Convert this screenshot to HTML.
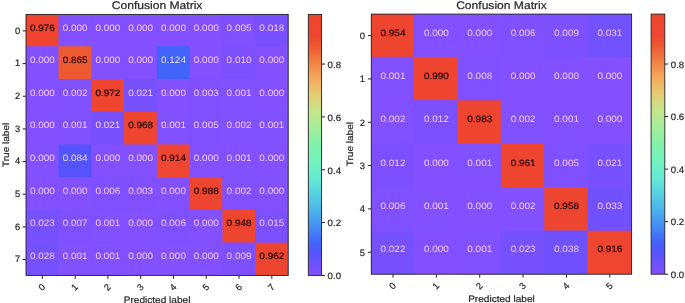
<!DOCTYPE html>
<html><head><meta charset="utf-8"><style>
html,body{margin:0;padding:0;background:#fff;width:685px;height:303px;overflow:hidden}
svg{display:block;filter:blur(0.45px)}
text{stroke-width:0.2px;paint-order:stroke;text-rendering:geometricPrecision}
</style></head><body>
<svg width="685" height="303" viewBox="0 0 685 303" font-family='"Liberation Sans", sans-serif' font-size="9.3">
<rect width="685" height="303" fill="#fff"/>
<rect x="26" y="14.4" width="262.2" height="261.0" fill="#8250ff"/>
<rect x="26.00" y="14.40" width="32.50" height="31.84" fill="#ee4430"/>
<rect x="222.50" y="14.40" width="32.80" height="31.84" fill="#7f50ff"/>
<rect x="255.30" y="14.40" width="32.80" height="31.84" fill="#7950ff"/>
<rect x="58.50" y="46.24" width="32.80" height="32.74" fill="#ed5a32"/>
<rect x="156.90" y="46.24" width="32.80" height="32.74" fill="#4264fa"/>
<rect x="222.50" y="46.24" width="32.80" height="32.74" fill="#7d50ff"/>
<rect x="58.50" y="78.98" width="32.80" height="32.74" fill="#8150ff"/>
<rect x="91.30" y="78.98" width="32.80" height="32.74" fill="#ee4430"/>
<rect x="124.10" y="78.98" width="32.80" height="32.74" fill="#7751fe"/>
<rect x="189.70" y="78.98" width="32.80" height="32.74" fill="#8050ff"/>
<rect x="222.50" y="78.98" width="32.80" height="32.74" fill="#8150ff"/>
<rect x="58.50" y="111.72" width="32.80" height="32.74" fill="#8150ff"/>
<rect x="91.30" y="111.72" width="32.80" height="32.74" fill="#7751fe"/>
<rect x="124.10" y="111.72" width="32.80" height="32.74" fill="#ee4530"/>
<rect x="156.90" y="111.72" width="32.80" height="32.74" fill="#8150ff"/>
<rect x="189.70" y="111.72" width="32.80" height="32.74" fill="#7f50ff"/>
<rect x="222.50" y="111.72" width="32.80" height="32.74" fill="#8150ff"/>
<rect x="255.30" y="111.72" width="32.80" height="32.74" fill="#8150ff"/>
<rect x="58.50" y="144.46" width="32.80" height="32.74" fill="#5554fc"/>
<rect x="156.90" y="144.46" width="32.80" height="32.74" fill="#ee4630"/>
<rect x="222.50" y="144.46" width="32.80" height="32.74" fill="#8150ff"/>
<rect x="91.30" y="177.20" width="32.80" height="32.74" fill="#7f50ff"/>
<rect x="124.10" y="177.20" width="32.80" height="32.74" fill="#8050ff"/>
<rect x="189.70" y="177.20" width="32.80" height="32.74" fill="#ee4430"/>
<rect x="222.50" y="177.20" width="32.80" height="32.74" fill="#8150ff"/>
<rect x="26.00" y="209.94" width="32.50" height="32.74" fill="#7651fe"/>
<rect x="58.50" y="209.94" width="32.80" height="32.74" fill="#7e50ff"/>
<rect x="91.30" y="209.94" width="32.80" height="32.74" fill="#8150ff"/>
<rect x="156.90" y="209.94" width="32.80" height="32.74" fill="#7f50ff"/>
<rect x="222.50" y="209.94" width="32.80" height="32.74" fill="#ee4530"/>
<rect x="255.30" y="209.94" width="32.80" height="32.74" fill="#7a50ff"/>
<rect x="26.00" y="242.68" width="32.50" height="32.72" fill="#7451fe"/>
<rect x="58.50" y="242.68" width="32.80" height="32.72" fill="#8150ff"/>
<rect x="91.30" y="242.68" width="32.80" height="32.72" fill="#8150ff"/>
<rect x="222.50" y="242.68" width="32.80" height="32.72" fill="#7d50ff"/>
<rect x="255.30" y="242.68" width="32.80" height="32.72" fill="#ee4530"/>
<text x="42.39" y="30.80" fill="#200808" stroke="#200808"  text-anchor="middle" textLength="24.86" lengthAdjust="spacingAndGlyphs">0.976</text>
<text x="75.16" y="30.80" fill="#f3c8ff" stroke="none"  text-anchor="middle" textLength="24.86" lengthAdjust="spacingAndGlyphs">0.000</text>
<text x="107.94" y="30.80" fill="#f3c8ff" stroke="none"  text-anchor="middle" textLength="24.86" lengthAdjust="spacingAndGlyphs">0.000</text>
<text x="140.71" y="30.80" fill="#f3c8ff" stroke="none"  text-anchor="middle" textLength="24.86" lengthAdjust="spacingAndGlyphs">0.000</text>
<text x="173.49" y="30.80" fill="#f3c8ff" stroke="none"  text-anchor="middle" textLength="24.86" lengthAdjust="spacingAndGlyphs">0.000</text>
<text x="206.26" y="30.80" fill="#f3c8ff" stroke="none"  text-anchor="middle" textLength="24.86" lengthAdjust="spacingAndGlyphs">0.000</text>
<text x="239.04" y="30.80" fill="#f3c8ff" stroke="none"  text-anchor="middle" textLength="24.86" lengthAdjust="spacingAndGlyphs">0.005</text>
<text x="271.81" y="30.80" fill="#f3c8ff" stroke="none"  text-anchor="middle" textLength="24.86" lengthAdjust="spacingAndGlyphs">0.018</text>
<text x="42.39" y="62.80" fill="#f3c8ff" stroke="none"  text-anchor="middle" textLength="24.86" lengthAdjust="spacingAndGlyphs">0.000</text>
<text x="75.16" y="62.80" fill="#200808" stroke="#200808"  text-anchor="middle" textLength="24.86" lengthAdjust="spacingAndGlyphs">0.865</text>
<text x="107.94" y="62.80" fill="#f3c8ff" stroke="none"  text-anchor="middle" textLength="24.86" lengthAdjust="spacingAndGlyphs">0.000</text>
<text x="140.71" y="62.80" fill="#f3c8ff" stroke="none"  text-anchor="middle" textLength="24.86" lengthAdjust="spacingAndGlyphs">0.000</text>
<text x="173.49" y="62.80" fill="#e4dcff" stroke="none"  text-anchor="middle" textLength="24.86" lengthAdjust="spacingAndGlyphs">0.124</text>
<text x="206.26" y="62.80" fill="#f3c8ff" stroke="none"  text-anchor="middle" textLength="24.86" lengthAdjust="spacingAndGlyphs">0.000</text>
<text x="239.04" y="62.80" fill="#f3c8ff" stroke="none"  text-anchor="middle" textLength="24.86" lengthAdjust="spacingAndGlyphs">0.010</text>
<text x="271.81" y="62.80" fill="#f3c8ff" stroke="none"  text-anchor="middle" textLength="24.86" lengthAdjust="spacingAndGlyphs">0.000</text>
<text x="42.39" y="96.00" fill="#f3c8ff" stroke="none"  text-anchor="middle" textLength="24.86" lengthAdjust="spacingAndGlyphs">0.000</text>
<text x="75.16" y="96.00" fill="#f3c8ff" stroke="none"  text-anchor="middle" textLength="24.86" lengthAdjust="spacingAndGlyphs">0.002</text>
<text x="107.94" y="96.00" fill="#200808" stroke="#200808"  text-anchor="middle" textLength="24.86" lengthAdjust="spacingAndGlyphs">0.972</text>
<text x="140.71" y="96.00" fill="#f3c8ff" stroke="none"  text-anchor="middle" textLength="24.86" lengthAdjust="spacingAndGlyphs">0.021</text>
<text x="173.49" y="96.00" fill="#f3c8ff" stroke="none"  text-anchor="middle" textLength="24.86" lengthAdjust="spacingAndGlyphs">0.000</text>
<text x="206.26" y="96.00" fill="#f3c8ff" stroke="none"  text-anchor="middle" textLength="24.86" lengthAdjust="spacingAndGlyphs">0.003</text>
<text x="239.04" y="96.00" fill="#f3c8ff" stroke="none"  text-anchor="middle" textLength="24.86" lengthAdjust="spacingAndGlyphs">0.001</text>
<text x="271.81" y="96.00" fill="#f3c8ff" stroke="none"  text-anchor="middle" textLength="24.86" lengthAdjust="spacingAndGlyphs">0.000</text>
<text x="42.39" y="128.40" fill="#f3c8ff" stroke="none"  text-anchor="middle" textLength="24.86" lengthAdjust="spacingAndGlyphs">0.000</text>
<text x="75.16" y="128.40" fill="#f3c8ff" stroke="none"  text-anchor="middle" textLength="24.86" lengthAdjust="spacingAndGlyphs">0.001</text>
<text x="107.94" y="128.40" fill="#f3c8ff" stroke="none"  text-anchor="middle" textLength="24.86" lengthAdjust="spacingAndGlyphs">0.021</text>
<text x="140.71" y="128.40" fill="#200808" stroke="#200808"  text-anchor="middle" textLength="24.86" lengthAdjust="spacingAndGlyphs">0.968</text>
<text x="173.49" y="128.40" fill="#f3c8ff" stroke="none"  text-anchor="middle" textLength="24.86" lengthAdjust="spacingAndGlyphs">0.001</text>
<text x="206.26" y="128.40" fill="#f3c8ff" stroke="none"  text-anchor="middle" textLength="24.86" lengthAdjust="spacingAndGlyphs">0.005</text>
<text x="239.04" y="128.40" fill="#f3c8ff" stroke="none"  text-anchor="middle" textLength="24.86" lengthAdjust="spacingAndGlyphs">0.002</text>
<text x="271.81" y="128.40" fill="#f3c8ff" stroke="none"  text-anchor="middle" textLength="24.86" lengthAdjust="spacingAndGlyphs">0.001</text>
<text x="42.39" y="160.80" fill="#f3c8ff" stroke="none"  text-anchor="middle" textLength="24.86" lengthAdjust="spacingAndGlyphs">0.000</text>
<text x="75.16" y="160.80" fill="#e4dcff" stroke="none"  text-anchor="middle" textLength="24.86" lengthAdjust="spacingAndGlyphs">0.084</text>
<text x="107.94" y="160.80" fill="#f3c8ff" stroke="none"  text-anchor="middle" textLength="24.86" lengthAdjust="spacingAndGlyphs">0.000</text>
<text x="140.71" y="160.80" fill="#f3c8ff" stroke="none"  text-anchor="middle" textLength="24.86" lengthAdjust="spacingAndGlyphs">0.000</text>
<text x="173.49" y="160.80" fill="#200808" stroke="#200808"  text-anchor="middle" textLength="24.86" lengthAdjust="spacingAndGlyphs">0.914</text>
<text x="206.26" y="160.80" fill="#f3c8ff" stroke="none"  text-anchor="middle" textLength="24.86" lengthAdjust="spacingAndGlyphs">0.000</text>
<text x="239.04" y="160.80" fill="#f3c8ff" stroke="none"  text-anchor="middle" textLength="24.86" lengthAdjust="spacingAndGlyphs">0.001</text>
<text x="271.81" y="160.80" fill="#f3c8ff" stroke="none"  text-anchor="middle" textLength="24.86" lengthAdjust="spacingAndGlyphs">0.000</text>
<text x="42.39" y="193.70" fill="#f3c8ff" stroke="none"  text-anchor="middle" textLength="24.86" lengthAdjust="spacingAndGlyphs">0.000</text>
<text x="75.16" y="193.70" fill="#f3c8ff" stroke="none"  text-anchor="middle" textLength="24.86" lengthAdjust="spacingAndGlyphs">0.000</text>
<text x="107.94" y="193.70" fill="#f3c8ff" stroke="none"  text-anchor="middle" textLength="24.86" lengthAdjust="spacingAndGlyphs">0.006</text>
<text x="140.71" y="193.70" fill="#f3c8ff" stroke="none"  text-anchor="middle" textLength="24.86" lengthAdjust="spacingAndGlyphs">0.003</text>
<text x="173.49" y="193.70" fill="#f3c8ff" stroke="none"  text-anchor="middle" textLength="24.86" lengthAdjust="spacingAndGlyphs">0.000</text>
<text x="206.26" y="193.70" fill="#200808" stroke="#200808"  text-anchor="middle" textLength="24.86" lengthAdjust="spacingAndGlyphs">0.988</text>
<text x="239.04" y="193.70" fill="#f3c8ff" stroke="none"  text-anchor="middle" textLength="24.86" lengthAdjust="spacingAndGlyphs">0.002</text>
<text x="271.81" y="193.70" fill="#f3c8ff" stroke="none"  text-anchor="middle" textLength="24.86" lengthAdjust="spacingAndGlyphs">0.000</text>
<text x="42.39" y="226.10" fill="#f3c8ff" stroke="none"  text-anchor="middle" textLength="24.86" lengthAdjust="spacingAndGlyphs">0.023</text>
<text x="75.16" y="226.10" fill="#f3c8ff" stroke="none"  text-anchor="middle" textLength="24.86" lengthAdjust="spacingAndGlyphs">0.007</text>
<text x="107.94" y="226.10" fill="#f3c8ff" stroke="none"  text-anchor="middle" textLength="24.86" lengthAdjust="spacingAndGlyphs">0.001</text>
<text x="140.71" y="226.10" fill="#f3c8ff" stroke="none"  text-anchor="middle" textLength="24.86" lengthAdjust="spacingAndGlyphs">0.000</text>
<text x="173.49" y="226.10" fill="#f3c8ff" stroke="none"  text-anchor="middle" textLength="24.86" lengthAdjust="spacingAndGlyphs">0.006</text>
<text x="206.26" y="226.10" fill="#f3c8ff" stroke="none"  text-anchor="middle" textLength="24.86" lengthAdjust="spacingAndGlyphs">0.000</text>
<text x="239.04" y="226.10" fill="#200808" stroke="#200808"  text-anchor="middle" textLength="24.86" lengthAdjust="spacingAndGlyphs">0.948</text>
<text x="271.81" y="226.10" fill="#f3c8ff" stroke="none"  text-anchor="middle" textLength="24.86" lengthAdjust="spacingAndGlyphs">0.015</text>
<text x="42.39" y="259.00" fill="#f3c8ff" stroke="none"  text-anchor="middle" textLength="24.86" lengthAdjust="spacingAndGlyphs">0.028</text>
<text x="75.16" y="259.00" fill="#f3c8ff" stroke="none"  text-anchor="middle" textLength="24.86" lengthAdjust="spacingAndGlyphs">0.001</text>
<text x="107.94" y="259.00" fill="#f3c8ff" stroke="none"  text-anchor="middle" textLength="24.86" lengthAdjust="spacingAndGlyphs">0.001</text>
<text x="140.71" y="259.00" fill="#f3c8ff" stroke="none"  text-anchor="middle" textLength="24.86" lengthAdjust="spacingAndGlyphs">0.000</text>
<text x="173.49" y="259.00" fill="#f3c8ff" stroke="none"  text-anchor="middle" textLength="24.86" lengthAdjust="spacingAndGlyphs">0.000</text>
<text x="206.26" y="259.00" fill="#f3c8ff" stroke="none"  text-anchor="middle" textLength="24.86" lengthAdjust="spacingAndGlyphs">0.000</text>
<text x="239.04" y="259.00" fill="#f3c8ff" stroke="none"  text-anchor="middle" textLength="24.86" lengthAdjust="spacingAndGlyphs">0.009</text>
<text x="271.81" y="259.00" fill="#200808" stroke="#200808"  text-anchor="middle" textLength="24.86" lengthAdjust="spacingAndGlyphs">0.962</text>
<rect x="26" y="14.4" width="262.2" height="261.0" fill="none" stroke="#222" stroke-width="0.9"/>
<line x1="22.6" y1="30.90" x2="26" y2="30.90" stroke="#222" stroke-width="1.0"/>
<text x="20.3" y="33.70" fill="#262626" stroke="#262626" text-anchor="end" textLength="5.22" lengthAdjust="spacingAndGlyphs">0</text>
<line x1="22.6" y1="63.57" x2="26" y2="63.57" stroke="#222" stroke-width="1.0"/>
<text x="20.3" y="66.37" fill="#262626" stroke="#262626" text-anchor="end" textLength="5.22" lengthAdjust="spacingAndGlyphs">1</text>
<line x1="22.6" y1="96.24" x2="26" y2="96.24" stroke="#222" stroke-width="1.0"/>
<text x="20.3" y="99.04" fill="#262626" stroke="#262626" text-anchor="end" textLength="5.22" lengthAdjust="spacingAndGlyphs">2</text>
<line x1="22.6" y1="128.91" x2="26" y2="128.91" stroke="#222" stroke-width="1.0"/>
<text x="20.3" y="131.71" fill="#262626" stroke="#262626" text-anchor="end" textLength="5.22" lengthAdjust="spacingAndGlyphs">3</text>
<line x1="22.6" y1="161.58" x2="26" y2="161.58" stroke="#222" stroke-width="1.0"/>
<text x="20.3" y="164.38" fill="#262626" stroke="#262626" text-anchor="end" textLength="5.22" lengthAdjust="spacingAndGlyphs">4</text>
<line x1="22.6" y1="194.25" x2="26" y2="194.25" stroke="#222" stroke-width="1.0"/>
<text x="20.3" y="197.05" fill="#262626" stroke="#262626" text-anchor="end" textLength="5.22" lengthAdjust="spacingAndGlyphs">5</text>
<line x1="22.6" y1="226.92" x2="26" y2="226.92" stroke="#222" stroke-width="1.0"/>
<text x="20.3" y="229.72" fill="#262626" stroke="#262626" text-anchor="end" textLength="5.22" lengthAdjust="spacingAndGlyphs">6</text>
<line x1="22.6" y1="259.59" x2="26" y2="259.59" stroke="#222" stroke-width="1.0"/>
<text x="20.3" y="262.39" fill="#262626" stroke="#262626" text-anchor="end" textLength="5.22" lengthAdjust="spacingAndGlyphs">7</text>
<line x1="42.35" y1="275.4" x2="42.35" y2="278.79999999999995" stroke="#222" stroke-width="1.0"/>
<text transform="translate(41.75,287.00) rotate(-45)" x="0" y="3.3" fill="#262626" stroke="#262626" text-anchor="middle" textLength="5.12" lengthAdjust="spacingAndGlyphs">0</text>
<line x1="75.13" y1="275.4" x2="75.13" y2="278.79999999999995" stroke="#222" stroke-width="1.0"/>
<text transform="translate(74.53,287.00) rotate(-45)" x="0" y="3.3" fill="#262626" stroke="#262626" text-anchor="middle" textLength="5.12" lengthAdjust="spacingAndGlyphs">1</text>
<line x1="107.91" y1="275.4" x2="107.91" y2="278.79999999999995" stroke="#222" stroke-width="1.0"/>
<text transform="translate(107.31,287.00) rotate(-45)" x="0" y="3.3" fill="#262626" stroke="#262626" text-anchor="middle" textLength="5.12" lengthAdjust="spacingAndGlyphs">2</text>
<line x1="140.69" y1="275.4" x2="140.69" y2="278.79999999999995" stroke="#222" stroke-width="1.0"/>
<text transform="translate(140.09,287.00) rotate(-45)" x="0" y="3.3" fill="#262626" stroke="#262626" text-anchor="middle" textLength="5.12" lengthAdjust="spacingAndGlyphs">3</text>
<line x1="173.47" y1="275.4" x2="173.47" y2="278.79999999999995" stroke="#222" stroke-width="1.0"/>
<text transform="translate(172.87,287.00) rotate(-45)" x="0" y="3.3" fill="#262626" stroke="#262626" text-anchor="middle" textLength="5.12" lengthAdjust="spacingAndGlyphs">4</text>
<line x1="206.25" y1="275.4" x2="206.25" y2="278.79999999999995" stroke="#222" stroke-width="1.0"/>
<text transform="translate(205.65,287.00) rotate(-45)" x="0" y="3.3" fill="#262626" stroke="#262626" text-anchor="middle" textLength="5.12" lengthAdjust="spacingAndGlyphs">5</text>
<line x1="239.03" y1="275.4" x2="239.03" y2="278.79999999999995" stroke="#222" stroke-width="1.0"/>
<text transform="translate(238.43,287.00) rotate(-45)" x="0" y="3.3" fill="#262626" stroke="#262626" text-anchor="middle" textLength="5.12" lengthAdjust="spacingAndGlyphs">6</text>
<line x1="271.81" y1="275.4" x2="271.81" y2="278.79999999999995" stroke="#222" stroke-width="1.0"/>
<text transform="translate(271.21,287.00) rotate(-45)" x="0" y="3.3" fill="#262626" stroke="#262626" text-anchor="middle" textLength="5.12" lengthAdjust="spacingAndGlyphs">7</text>
<text x="157.10" y="8.8" fill="#262626" stroke="#262626" text-anchor="middle" font-size="11.0" textLength="90.6" lengthAdjust="spacingAndGlyphs">Confusion Matrix</text>
<text x="157.10" y="302.90" fill="#262626" stroke="#262626" text-anchor="middle" textLength="66.6" lengthAdjust="spacingAndGlyphs">Predicted label</text>
<text transform="translate(9.4,144.90) rotate(-90)" x="0" y="0" fill="#262626" stroke="#262626" text-anchor="middle" textLength="44.2" lengthAdjust="spacingAndGlyphs">True label</text>
<defs><linearGradient id="g26" x1="0" y1="0" x2="0" y2="1"><stop offset="0.0000" stop-color="#ee4430"/><stop offset="0.0800" stop-color="#ee4630"/><stop offset="0.1250" stop-color="#ed5a32"/><stop offset="0.1875" stop-color="#f18446"/><stop offset="0.2500" stop-color="#f5ac5c"/><stop offset="0.3125" stop-color="#e2cf75"/><stop offset="0.3750" stop-color="#c3e68c"/><stop offset="0.4375" stop-color="#a2ee9b"/><stop offset="0.5000" stop-color="#82f2aa"/><stop offset="0.5625" stop-color="#73f3be"/><stop offset="0.6250" stop-color="#66ead2"/><stop offset="0.6875" stop-color="#58d2e1"/><stop offset="0.7500" stop-color="#4bb4eb"/><stop offset="0.8125" stop-color="#448ef4"/><stop offset="0.8750" stop-color="#4264fa"/><stop offset="0.9150" stop-color="#5554fc"/><stop offset="0.9600" stop-color="#6e51fe"/><stop offset="1.0000" stop-color="#8250ff"/></linearGradient></defs>
<rect x="308.3" y="14.4" width="13.300000000000011" height="261.0" fill="url(#g26)" stroke="#222" stroke-width="0.9"/>
<line x1="321.6" y1="275.40" x2="325.0" y2="275.40" stroke="#222" stroke-width="1.0"/>
<text x="327.6" y="279.20" fill="#262626" stroke="#262626" textLength="13.41" lengthAdjust="spacingAndGlyphs">0.0</text>
<line x1="321.6" y1="222.57" x2="325.0" y2="222.57" stroke="#222" stroke-width="1.0"/>
<text x="327.6" y="226.37" fill="#262626" stroke="#262626" textLength="13.41" lengthAdjust="spacingAndGlyphs">0.2</text>
<line x1="321.6" y1="169.73" x2="325.0" y2="169.73" stroke="#222" stroke-width="1.0"/>
<text x="327.6" y="173.53" fill="#262626" stroke="#262626" textLength="13.41" lengthAdjust="spacingAndGlyphs">0.4</text>
<line x1="321.6" y1="116.90" x2="325.0" y2="116.90" stroke="#222" stroke-width="1.0"/>
<text x="327.6" y="120.70" fill="#262626" stroke="#262626" textLength="13.41" lengthAdjust="spacingAndGlyphs">0.6</text>
<line x1="321.6" y1="64.06" x2="325.0" y2="64.06" stroke="#222" stroke-width="1.0"/>
<text x="327.6" y="67.86" fill="#262626" stroke="#262626" textLength="13.41" lengthAdjust="spacingAndGlyphs">0.8</text>
<rect x="371.3" y="14.1" width="260.3" height="260.09999999999997" fill="#8250ff"/>
<rect x="371.30" y="14.10" width="42.73" height="42.80" fill="#ee4530"/>
<rect x="500.89" y="14.10" width="43.43" height="42.80" fill="#7f50ff"/>
<rect x="544.32" y="14.10" width="43.43" height="42.80" fill="#7d50ff"/>
<rect x="587.75" y="14.10" width="43.43" height="42.80" fill="#7251fe"/>
<rect x="371.30" y="56.90" width="42.73" height="43.45" fill="#8150ff"/>
<rect x="414.03" y="56.90" width="43.43" height="43.45" fill="#ee4430"/>
<rect x="457.46" y="56.90" width="43.43" height="43.45" fill="#7e50ff"/>
<rect x="371.30" y="100.35" width="42.73" height="43.45" fill="#8150ff"/>
<rect x="414.03" y="100.35" width="43.43" height="43.45" fill="#7c50ff"/>
<rect x="457.46" y="100.35" width="43.43" height="43.45" fill="#ee4430"/>
<rect x="500.89" y="100.35" width="43.43" height="43.45" fill="#8150ff"/>
<rect x="544.32" y="100.35" width="43.43" height="43.45" fill="#8150ff"/>
<rect x="371.30" y="143.80" width="42.73" height="43.45" fill="#7c50ff"/>
<rect x="457.46" y="143.80" width="43.43" height="43.45" fill="#8150ff"/>
<rect x="500.89" y="143.80" width="43.43" height="43.45" fill="#ee4530"/>
<rect x="544.32" y="143.80" width="43.43" height="43.45" fill="#7f50ff"/>
<rect x="587.75" y="143.80" width="43.43" height="43.45" fill="#7751fe"/>
<rect x="371.30" y="187.25" width="42.73" height="43.45" fill="#7f50ff"/>
<rect x="414.03" y="187.25" width="43.43" height="43.45" fill="#8150ff"/>
<rect x="500.89" y="187.25" width="43.43" height="43.45" fill="#8150ff"/>
<rect x="544.32" y="187.25" width="43.43" height="43.45" fill="#ee4530"/>
<rect x="587.75" y="187.25" width="43.43" height="43.45" fill="#7151fe"/>
<rect x="371.30" y="230.70" width="42.73" height="43.45" fill="#7751fe"/>
<rect x="457.46" y="230.70" width="43.43" height="43.45" fill="#8150ff"/>
<rect x="500.89" y="230.70" width="43.43" height="43.45" fill="#7651fe"/>
<rect x="544.32" y="230.70" width="43.43" height="43.45" fill="#6f51fe"/>
<rect x="587.75" y="230.70" width="43.43" height="43.45" fill="#ee4630"/>
<text x="392.99" y="35.80" fill="#200808" stroke="#200808"  text-anchor="middle" textLength="24.86" lengthAdjust="spacingAndGlyphs">0.954</text>
<text x="436.38" y="35.80" fill="#f3c8ff" stroke="none"  text-anchor="middle" textLength="24.86" lengthAdjust="spacingAndGlyphs">0.000</text>
<text x="479.76" y="35.80" fill="#f3c8ff" stroke="none"  text-anchor="middle" textLength="24.86" lengthAdjust="spacingAndGlyphs">0.000</text>
<text x="523.14" y="35.80" fill="#f3c8ff" stroke="none"  text-anchor="middle" textLength="24.86" lengthAdjust="spacingAndGlyphs">0.006</text>
<text x="566.52" y="35.80" fill="#f3c8ff" stroke="none"  text-anchor="middle" textLength="24.86" lengthAdjust="spacingAndGlyphs">0.009</text>
<text x="609.91" y="35.80" fill="#f3c8ff" stroke="none"  text-anchor="middle" textLength="24.86" lengthAdjust="spacingAndGlyphs">0.031</text>
<text x="392.99" y="79.20" fill="#f3c8ff" stroke="none"  text-anchor="middle" textLength="24.86" lengthAdjust="spacingAndGlyphs">0.001</text>
<text x="436.38" y="79.20" fill="#200808" stroke="#200808"  text-anchor="middle" textLength="24.86" lengthAdjust="spacingAndGlyphs">0.990</text>
<text x="479.76" y="79.20" fill="#f3c8ff" stroke="none"  text-anchor="middle" textLength="24.86" lengthAdjust="spacingAndGlyphs">0.008</text>
<text x="523.14" y="79.20" fill="#f3c8ff" stroke="none"  text-anchor="middle" textLength="24.86" lengthAdjust="spacingAndGlyphs">0.000</text>
<text x="566.52" y="79.20" fill="#f3c8ff" stroke="none"  text-anchor="middle" textLength="24.86" lengthAdjust="spacingAndGlyphs">0.000</text>
<text x="609.91" y="79.20" fill="#f3c8ff" stroke="none"  text-anchor="middle" textLength="24.86" lengthAdjust="spacingAndGlyphs">0.000</text>
<text x="392.99" y="122.40" fill="#f3c8ff" stroke="none"  text-anchor="middle" textLength="24.86" lengthAdjust="spacingAndGlyphs">0.002</text>
<text x="436.38" y="122.40" fill="#f3c8ff" stroke="none"  text-anchor="middle" textLength="24.86" lengthAdjust="spacingAndGlyphs">0.012</text>
<text x="479.76" y="122.40" fill="#200808" stroke="#200808"  text-anchor="middle" textLength="24.86" lengthAdjust="spacingAndGlyphs">0.983</text>
<text x="523.14" y="122.40" fill="#f3c8ff" stroke="none"  text-anchor="middle" textLength="24.86" lengthAdjust="spacingAndGlyphs">0.002</text>
<text x="566.52" y="122.40" fill="#f3c8ff" stroke="none"  text-anchor="middle" textLength="24.86" lengthAdjust="spacingAndGlyphs">0.001</text>
<text x="609.91" y="122.40" fill="#f3c8ff" stroke="none"  text-anchor="middle" textLength="24.86" lengthAdjust="spacingAndGlyphs">0.000</text>
<text x="392.99" y="165.80" fill="#f3c8ff" stroke="none"  text-anchor="middle" textLength="24.86" lengthAdjust="spacingAndGlyphs">0.012</text>
<text x="436.38" y="165.80" fill="#f3c8ff" stroke="none"  text-anchor="middle" textLength="24.86" lengthAdjust="spacingAndGlyphs">0.000</text>
<text x="479.76" y="165.80" fill="#f3c8ff" stroke="none"  text-anchor="middle" textLength="24.86" lengthAdjust="spacingAndGlyphs">0.001</text>
<text x="523.14" y="165.80" fill="#200808" stroke="#200808"  text-anchor="middle" textLength="24.86" lengthAdjust="spacingAndGlyphs">0.961</text>
<text x="566.52" y="165.80" fill="#f3c8ff" stroke="none"  text-anchor="middle" textLength="24.86" lengthAdjust="spacingAndGlyphs">0.005</text>
<text x="609.91" y="165.80" fill="#f3c8ff" stroke="none"  text-anchor="middle" textLength="24.86" lengthAdjust="spacingAndGlyphs">0.021</text>
<text x="392.99" y="208.80" fill="#f3c8ff" stroke="none"  text-anchor="middle" textLength="24.86" lengthAdjust="spacingAndGlyphs">0.006</text>
<text x="436.38" y="208.80" fill="#f3c8ff" stroke="none"  text-anchor="middle" textLength="24.86" lengthAdjust="spacingAndGlyphs">0.001</text>
<text x="479.76" y="208.80" fill="#f3c8ff" stroke="none"  text-anchor="middle" textLength="24.86" lengthAdjust="spacingAndGlyphs">0.000</text>
<text x="523.14" y="208.80" fill="#f3c8ff" stroke="none"  text-anchor="middle" textLength="24.86" lengthAdjust="spacingAndGlyphs">0.002</text>
<text x="566.52" y="208.80" fill="#200808" stroke="#200808"  text-anchor="middle" textLength="24.86" lengthAdjust="spacingAndGlyphs">0.958</text>
<text x="609.91" y="208.80" fill="#f3c8ff" stroke="none"  text-anchor="middle" textLength="24.86" lengthAdjust="spacingAndGlyphs">0.033</text>
<text x="392.99" y="252.00" fill="#f3c8ff" stroke="none"  text-anchor="middle" textLength="24.86" lengthAdjust="spacingAndGlyphs">0.022</text>
<text x="436.38" y="252.00" fill="#f3c8ff" stroke="none"  text-anchor="middle" textLength="24.86" lengthAdjust="spacingAndGlyphs">0.000</text>
<text x="479.76" y="252.00" fill="#f3c8ff" stroke="none"  text-anchor="middle" textLength="24.86" lengthAdjust="spacingAndGlyphs">0.001</text>
<text x="523.14" y="252.00" fill="#f3c8ff" stroke="none"  text-anchor="middle" textLength="24.86" lengthAdjust="spacingAndGlyphs">0.023</text>
<text x="566.52" y="252.00" fill="#f3c8ff" stroke="none"  text-anchor="middle" textLength="24.86" lengthAdjust="spacingAndGlyphs">0.038</text>
<text x="609.91" y="252.00" fill="#200808" stroke="#200808"  text-anchor="middle" textLength="24.86" lengthAdjust="spacingAndGlyphs">0.916</text>
<rect x="371.3" y="14.1" width="260.3" height="260.09999999999997" fill="none" stroke="#222" stroke-width="0.9"/>
<line x1="367.90000000000003" y1="35.60" x2="371.3" y2="35.60" stroke="#222" stroke-width="1.0"/>
<text x="364.9" y="39.10" fill="#262626" stroke="#262626" text-anchor="end" textLength="5.22" lengthAdjust="spacingAndGlyphs">0</text>
<line x1="367.90000000000003" y1="78.92" x2="371.3" y2="78.92" stroke="#222" stroke-width="1.0"/>
<text x="364.9" y="82.42" fill="#262626" stroke="#262626" text-anchor="end" textLength="5.22" lengthAdjust="spacingAndGlyphs">1</text>
<line x1="367.90000000000003" y1="122.24" x2="371.3" y2="122.24" stroke="#222" stroke-width="1.0"/>
<text x="364.9" y="125.74" fill="#262626" stroke="#262626" text-anchor="end" textLength="5.22" lengthAdjust="spacingAndGlyphs">2</text>
<line x1="367.90000000000003" y1="165.56" x2="371.3" y2="165.56" stroke="#222" stroke-width="1.0"/>
<text x="364.9" y="169.06" fill="#262626" stroke="#262626" text-anchor="end" textLength="5.22" lengthAdjust="spacingAndGlyphs">3</text>
<line x1="367.90000000000003" y1="208.88" x2="371.3" y2="208.88" stroke="#222" stroke-width="1.0"/>
<text x="364.9" y="212.38" fill="#262626" stroke="#262626" text-anchor="end" textLength="5.22" lengthAdjust="spacingAndGlyphs">4</text>
<line x1="367.90000000000003" y1="252.20" x2="371.3" y2="252.20" stroke="#222" stroke-width="1.0"/>
<text x="364.9" y="255.70" fill="#262626" stroke="#262626" text-anchor="end" textLength="5.22" lengthAdjust="spacingAndGlyphs">5</text>
<line x1="393.00" y1="274.2" x2="393.00" y2="277.59999999999997" stroke="#222" stroke-width="1.0"/>
<text transform="translate(392.40,285.80) rotate(-45)" x="0" y="3.3" fill="#262626" stroke="#262626" text-anchor="middle" textLength="5.12" lengthAdjust="spacingAndGlyphs">0</text>
<line x1="436.36" y1="274.2" x2="436.36" y2="277.59999999999997" stroke="#222" stroke-width="1.0"/>
<text transform="translate(435.76,285.80) rotate(-45)" x="0" y="3.3" fill="#262626" stroke="#262626" text-anchor="middle" textLength="5.12" lengthAdjust="spacingAndGlyphs">1</text>
<line x1="479.72" y1="274.2" x2="479.72" y2="277.59999999999997" stroke="#222" stroke-width="1.0"/>
<text transform="translate(479.12,285.80) rotate(-45)" x="0" y="3.3" fill="#262626" stroke="#262626" text-anchor="middle" textLength="5.12" lengthAdjust="spacingAndGlyphs">2</text>
<line x1="523.08" y1="274.2" x2="523.08" y2="277.59999999999997" stroke="#222" stroke-width="1.0"/>
<text transform="translate(522.48,285.80) rotate(-45)" x="0" y="3.3" fill="#262626" stroke="#262626" text-anchor="middle" textLength="5.12" lengthAdjust="spacingAndGlyphs">3</text>
<line x1="566.44" y1="274.2" x2="566.44" y2="277.59999999999997" stroke="#222" stroke-width="1.0"/>
<text transform="translate(565.84,285.80) rotate(-45)" x="0" y="3.3" fill="#262626" stroke="#262626" text-anchor="middle" textLength="5.12" lengthAdjust="spacingAndGlyphs">4</text>
<line x1="609.80" y1="274.2" x2="609.80" y2="277.59999999999997" stroke="#222" stroke-width="1.0"/>
<text transform="translate(609.20,285.80) rotate(-45)" x="0" y="3.3" fill="#262626" stroke="#262626" text-anchor="middle" textLength="5.12" lengthAdjust="spacingAndGlyphs">5</text>
<text x="501.45" y="8.8" fill="#262626" stroke="#262626" text-anchor="middle" font-size="11.0" textLength="90.6" lengthAdjust="spacingAndGlyphs">Confusion Matrix</text>
<text x="501.45" y="301.70" fill="#262626" stroke="#262626" text-anchor="middle" textLength="66.6" lengthAdjust="spacingAndGlyphs">Predicted label</text>
<text transform="translate(353.4,144.15) rotate(-90)" x="0" y="0" fill="#262626" stroke="#262626" text-anchor="middle" textLength="44.2" lengthAdjust="spacingAndGlyphs">True label</text>
<defs><linearGradient id="g371.3" x1="0" y1="0" x2="0" y2="1"><stop offset="0.0000" stop-color="#ee4430"/><stop offset="0.0800" stop-color="#ee4630"/><stop offset="0.1250" stop-color="#ed5a32"/><stop offset="0.1875" stop-color="#f18446"/><stop offset="0.2500" stop-color="#f5ac5c"/><stop offset="0.3125" stop-color="#e2cf75"/><stop offset="0.3750" stop-color="#c3e68c"/><stop offset="0.4375" stop-color="#a2ee9b"/><stop offset="0.5000" stop-color="#82f2aa"/><stop offset="0.5625" stop-color="#73f3be"/><stop offset="0.6250" stop-color="#66ead2"/><stop offset="0.6875" stop-color="#58d2e1"/><stop offset="0.7500" stop-color="#4bb4eb"/><stop offset="0.8125" stop-color="#448ef4"/><stop offset="0.8750" stop-color="#4264fa"/><stop offset="0.9150" stop-color="#5554fc"/><stop offset="0.9600" stop-color="#6e51fe"/><stop offset="1.0000" stop-color="#8250ff"/></linearGradient></defs>
<rect x="651.1" y="14.1" width="13.699999999999932" height="260.09999999999997" fill="url(#g371.3)" stroke="#222" stroke-width="0.9"/>
<line x1="664.8" y1="274.20" x2="668.1999999999999" y2="274.20" stroke="#222" stroke-width="1.0"/>
<text x="670.8" y="278.00" fill="#262626" stroke="#262626" textLength="13.41" lengthAdjust="spacingAndGlyphs">0.0</text>
<line x1="664.8" y1="221.65" x2="668.1999999999999" y2="221.65" stroke="#222" stroke-width="1.0"/>
<text x="670.8" y="225.45" fill="#262626" stroke="#262626" textLength="13.41" lengthAdjust="spacingAndGlyphs">0.2</text>
<line x1="664.8" y1="169.11" x2="668.1999999999999" y2="169.11" stroke="#222" stroke-width="1.0"/>
<text x="670.8" y="172.91" fill="#262626" stroke="#262626" textLength="13.41" lengthAdjust="spacingAndGlyphs">0.4</text>
<line x1="664.8" y1="116.56" x2="668.1999999999999" y2="116.56" stroke="#222" stroke-width="1.0"/>
<text x="670.8" y="120.36" fill="#262626" stroke="#262626" textLength="13.41" lengthAdjust="spacingAndGlyphs">0.6</text>
<line x1="664.8" y1="64.02" x2="668.1999999999999" y2="64.02" stroke="#222" stroke-width="1.0"/>
<text x="670.8" y="67.82" fill="#262626" stroke="#262626" textLength="13.41" lengthAdjust="spacingAndGlyphs">0.8</text>
</svg>
</body></html>
